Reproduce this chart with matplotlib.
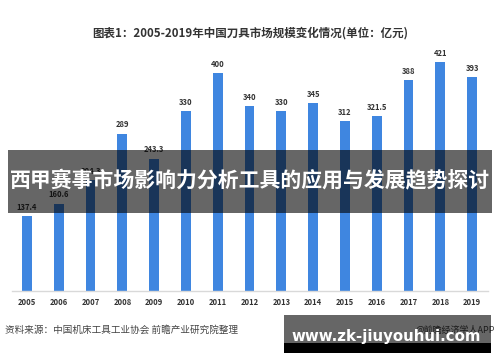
import matplotlib
matplotlib.use("Agg")
import matplotlib.pyplot as plt
from matplotlib.patches import Rectangle

plt.rcParams['font.family'] = ['Noto Sans CJK SC', 'DejaVu Sans']

years = ["2005", "2006", "2007", "2008", "2009", "2010", "2011", "2012",
         "2013", "2014", "2015", "2016", "2017", "2018", "2019"]
values = [137.4, 160.6, 204.3, 289, 243.3, 330, 400, 340,
          330, 345, 312, 321.5, 388, 421, 393]
value_labels = ["137.4", "160.6", "204.3", "289", "243.3", "330", "400", "340",
                "330", "345", "312", "321.5", "388", "421", "393"]

title = "图表1：2005-2019年中国刀具市场规模变化情况(单位：亿元)"
source = "资料来源：中国机床工具工业协会 前瞻产业研究院整理"
credit = "@前瞻经济学人APP"
banner = "西甲赛事市场影响力分析工具的应用与发展趋势探讨"
site = "www.zk-jiuyouhui.com"

fig = plt.figure(figsize=(5, 3.62), dpi=100)
ax = fig.add_axes([0.024, 0.196, 0.952, 0.677])
x = list(range(len(years)))
ax.bar(x, values, width=0.31, color="#3F86E0", zorder=2)
ax.set_xlim(-0.47, 14.5)
ax.set_ylim(0, 450)
for s in ["top", "right", "left"]:
    ax.spines[s].set_visible(False)
ax.spines["bottom"].set_color("#d9d9d9")
ax.spines["bottom"].set_linewidth(1.0)
ax.set_yticks([])
ax.set_xticks(x)
ax.set_xticklabels(years, fontsize=5.5, fontweight="bold", color="#333333")
ax.tick_params(axis="x", length=0, pad=5)
for xi, v, lab in zip(x, values, value_labels):
    ax.annotate(lab, (xi, v), xytext=(0, 3), textcoords="offset points",
                ha="center", va="bottom", fontsize=5.5, fontweight="bold",
                color="#333333")

fig.text(0.5, 0.909, title, ha="center", va="center", fontsize=8.3,
         fontweight="bold", color="#333333")
fig.text(0.01, 0.088, source, ha="left", va="center", fontsize=6.9,
         color="#444444")
fig.text(0.832, 0.088, credit, ha="left", va="center", fontsize=6.5,
         color="#444444")

# overlay banner
fig.patches.append(Rectangle((0.016, 1 - 213 / 362), 0.968, 63 / 362,
                             transform=fig.transFigure, facecolor="black",
                             alpha=0.6, zorder=5))
fig.text(0.5, 1 - 181 / 362, banner, ha="center", va="center", fontsize=15,
         fontweight="bold", color="white", zorder=6)

# bottom-right banner
fig.patches.append(Rectangle((284 / 500, 1 - 343 / 362), 207 / 500, 28 / 362,
                             transform=fig.transFigure, facecolor="black",
                             alpha=0.6, zorder=5))
fig.patches.append(Rectangle((284 / 500, 1 - 353 / 362), 207 / 500, 10 / 362,
                             transform=fig.transFigure, facecolor="black",
                             zorder=5))
fig.text(386 / 500, 1 - 337 / 362, site, ha="center", va="center",
         fontsize=10.8, fontweight="bold", color="white", zorder=6,
         family=["DejaVu Sans"])

fig.savefig("out.png", dpi=100)
